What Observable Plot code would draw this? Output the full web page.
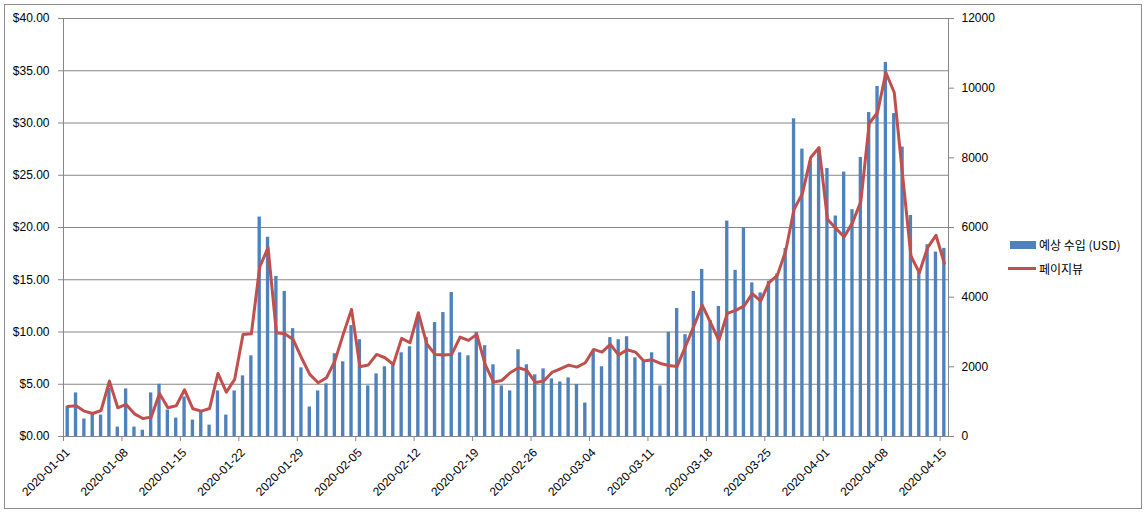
<!DOCTYPE html>
<html>
<head>
<meta charset="utf-8">
<script src="https://cdn.jsdelivr.net/npm/d3@7"></script>
<script src="https://cdn.jsdelivr.net/npm/@observablehq/plot@0.6"></script>
<style>
  body { margin: 0; background: #fff; }
  #wrap { position: relative; width: 1147px; height: 513px; background: #fff; }
  #frame { position: absolute; left: 4px; top: 4px; width: 1138px; height: 505px; border: 1px solid #8c8c8c; box-sizing: border-box; pointer-events: none; }
  .lg { position: absolute; left: 1008px; font: 12px "Noto Sans CJK KR", "Noto Sans", sans-serif; color: #000; display: flex; align-items: center; white-space: nowrap; }
  .sw-bar { width: 26px; height: 8px; background: #4F81BD; margin-left: 2px; margin-right: 3px; }
  .sw-line { width: 28px; height: 3px; background: #C0504D; margin-right: 3px; }
</style>
</head>
<body>
<div id="wrap">
  <div id="chart"></div>
  <div class="lg" style="top:236px"><div class="sw-bar"></div><span>예상 수입 (USD)</span></div>
  <div class="lg" style="top:260px"><div class="sw-line"></div><span>페이지뷰</span></div>
  <div id="frame"></div>
</div>
<script>
const dates = [
  "2020-01-01","2020-01-02","2020-01-03","2020-01-04","2020-01-05","2020-01-06","2020-01-07","2020-01-08","2020-01-09","2020-01-10",
  "2020-01-11","2020-01-12","2020-01-13","2020-01-14","2020-01-15","2020-01-16","2020-01-17","2020-01-18","2020-01-19","2020-01-20",
  "2020-01-21","2020-01-22","2020-01-23","2020-01-24","2020-01-25","2020-01-26","2020-01-27","2020-01-28","2020-01-29","2020-01-30",
  "2020-01-31","2020-02-01","2020-02-02","2020-02-03","2020-02-04","2020-02-05","2020-02-06","2020-02-07","2020-02-08","2020-02-09",
  "2020-02-10","2020-02-11","2020-02-12","2020-02-13","2020-02-14","2020-02-15","2020-02-16","2020-02-17","2020-02-18","2020-02-19",
  "2020-02-20","2020-02-21","2020-02-22","2020-02-23","2020-02-24","2020-02-25","2020-02-26","2020-02-27","2020-02-28","2020-02-29",
  "2020-03-01","2020-03-02","2020-03-03","2020-03-04","2020-03-05","2020-03-06","2020-03-07","2020-03-08","2020-03-09","2020-03-10",
  "2020-03-11","2020-03-12","2020-03-13","2020-03-14","2020-03-15","2020-03-16","2020-03-17","2020-03-18","2020-03-19","2020-03-20",
  "2020-03-21","2020-03-22","2020-03-23","2020-03-24","2020-03-25","2020-03-26","2020-03-27","2020-03-28","2020-03-29","2020-03-30",
  "2020-03-31","2020-04-01","2020-04-02","2020-04-03","2020-04-04","2020-04-05","2020-04-06","2020-04-07","2020-04-08","2020-04-09",
  "2020-04-10","2020-04-11","2020-04-12","2020-04-13","2020-04-14","2020-04-15"
];

// 예상 수입 (USD) — left axis
const revenue = [
  2.88,4.17,1.67,2.10,2.05,4.60,0.90,4.55,0.90,0.60,
  4.17,5.00,2.53,1.76,3.78,1.57,2.44,1.09,4.36,2.05,
  4.36,5.80,7.72,21.00,19.07,15.32,13.88,10.32,6.57,2.82,
  4.36,5.03,7.92,7.15,10.61,9.26,4.84,5.99,6.67,6.86,
  8.01,8.59,11.47,9.46,10.90,11.86,13.78,8.01,7.72,9.97,
  8.69,6.86,4.84,4.36,8.30,6.86,5.90,6.47,5.51,5.22,
  5.61,4.97,3.20,8.20,6.67,9.46,9.26,9.55,7.53,7.24,
  8.01,4.84,9.97,12.24,9.74,13.88,15.99,11.10,12.44,20.61,
  15.90,20.00,14.70,13.74,14.85,15.56,18.00,30.40,27.50,26.35,
  27.20,25.65,21.10,25.30,21.70,26.70,31.00,33.50,35.80,30.90,
  27.70,21.15,15.80,18.35,17.65,18.00
];

// 페이지뷰 — right axis
const pageviews = [
  862,881,728,661,747,1590,824,920,651,517,
  556,1236,824,881,1341,795,728,805,1810,1274,
  1638,2931,2950,4866,5421,2979,2950,2787,2261,1782,
  1542,1686,2165,2931,3649,2002,2050,2356,2261,2069,
  2816,2692,3554,2663,2356,2337,2356,2854,2759,2931,
  2069,1561,1609,1830,1973,1897,1552,1590,1839,1944,
  2050,1992,2117,2500,2423,2644,2337,2490,2423,2165,
  2203,2098,2040,2011,2586,3170,3774,3266,2759,3534,
  3621,3745,4100,3889,4416,4626,5326,6523,6973,8008,
  8295,6236,5977,5728,6140,6743,8985,9301,10450,9875,
  7500,5182,4703,5421,5776,4971
];

const xTickLabels = ["2020-01-01","2020-01-08","2020-01-15","2020-01-22","2020-01-29","2020-02-05","2020-02-12","2020-02-19","2020-02-26","2020-03-04","2020-03-11","2020-03-18","2020-03-25","2020-04-01","2020-04-08","2020-04-15"];
const leftTicks = [0, 5, 10, 15, 20, 25, 30, 35, 40];
const rightTicks = [0, 2000, 4000, 6000, 8000, 10000, 12000];

const leftMax = 40, rightMax = 12000;
const ratio = rightMax / leftMax;

const rows = dates.map((d, i) => ({date: d, revenue: revenue[i], pageviews: pageviews[i]}));

const chart = Plot.plot({
  width: 1147,
  height: 513,
  marginLeft: 63,
  marginRight: 199,
  marginTop: 18,
  marginBottom: 77,
  style: {fontFamily: "'Liberation Sans', Arial, sans-serif", fontSize: "12px", color: "#000", background: "transparent", overflow: "visible"},
  x: {type: "band", domain: dates, paddingInner: 0.6, paddingOuter: 0.3, axis: null},
  y: {domain: [0, leftMax], axis: null},
  marks: [
    Plot.gridY(leftTicks, {stroke: "#878787", strokeOpacity: 1, strokeWidth: 1}),
    Plot.frame({stroke: "#878787"}),
    Plot.barY(rows, {x: "date", y: "revenue", fill: "#4F81BD"}),
    Plot.line(rows, {x: "date", y: d => d.pageviews / ratio, stroke: "#C0504D", strokeWidth: 3, strokeLinejoin: "round", strokeLinecap: "round"}),
    Plot.axisY(leftTicks, {anchor: "left", label: null, tickSize: 5, tickPadding: 9, stroke: "#878787", fill: "#000", tickFormat: d => "$" + d.toFixed(2)}),
    Plot.axisY(rightTicks.map(v => v / ratio), {anchor: "right", label: null, tickSize: 5, tickPadding: 8, stroke: "#878787", fill: "#000", tickFormat: d => String(Math.round(d * ratio))}),
    Plot.axisX(xTickLabels, {anchor: "bottom", label: null, tickSize: 0, tickPadding: 14, tickRotate: -45, fill: "#000"}),
    Plot.axisX(xTickLabels, {anchor: "bottom", label: null, tickSize: 5, tickFormat: () => "", stroke: "#878787", dx: -4.17})
  ]
});
document.getElementById("chart").appendChild(chart);
</script>
</body>
</html>
